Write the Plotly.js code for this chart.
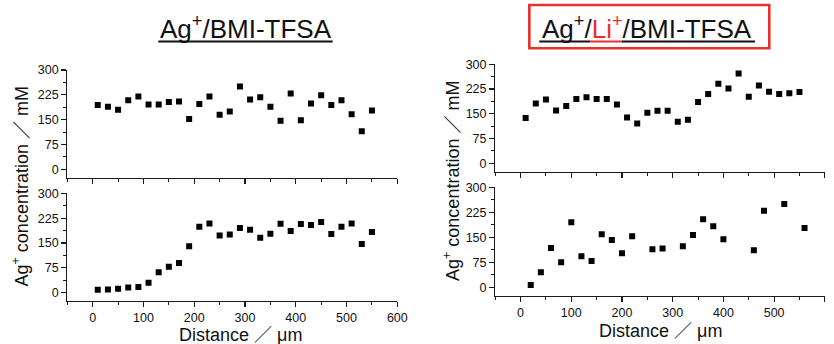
<!DOCTYPE html>
<html>
<head>
<meta charset="utf-8">
<script src="https://cdn.plot.ly/plotly-3.0.1.min.js"></script>
<style>html,body{margin:0;padding:0;background:#fff;}#chart{width:834px;height:344px;}</style>
</head>
<body>
<div id="chart"></div>
<script>
// ---- data ----
const distA = [10,30,50,70,90,110,130,150,170,190,210,230,250,270,290,310,330,350,370,390,410,430,450,470,490,510,530,550];
const agTopLeft = [194,189,180,209,220,196,196,203,205,152,197,220,165,175,250,211,218,189,147,229,148,199,224,194,209,166,115,178];
const agBottomLeft = [9,10,12,16,17,30,62,78,90,140,199,209,173,176,195,190,166,178,208,186,207,204,213,177,199,209,147,183];
const agTopRight = [137,181,193,160,174,195,200,195,195,178,139,121,153,159,159,126,132,186,210,241,227,272,202,236,217,210,212,216];
const distB = [20,40,60,80,100,120,140,160,180,200,220,260,280,320,340,360,380,400,460,480,520,560];
const agBottomRight = [7,45,118,75,195,93,79,159,142,102,153,114,116,123,157,204,183,144,111,230,250,178];
const yTickVals = [0,75,150,225,300];
const yTickText = ["0","75","150","225","300"];
const xTickVals = [0,100,200,300,400,500,600];
const xTickText = ["0","100","200","300","400","500","600"];
const titleLeft = "Ag<sup>+</sup>/BMI-TFSA";
const titleRight = "Ag<sup>+</sup>/<span style=\"color:#e8302c\">Li<sup>+</sup></span>/BMI-TFSA";
const yTitle = "Ag<sup>+</sup> concentration ／ mM";
const xTitle = "Distance ／ μm";

// ---- styles ----
const FONT = "Liberation Sans, Arial, Noto Sans CJK JP, sans-serif";
const INK = "#1a1a1a";
const RED = "#e8302c";
const marker = {symbol: "square", size: 6, color: "#000"};

function tr(x, y, xa, ya) {
  return {x: x, y: y, type: "scatter", mode: "markers", marker: marker,
          xaxis: xa, yaxis: ya, showlegend: false, hoverinfo: "x+y"};
}
const data = [
  tr(distA, agTopLeft, "x", "y"),
  tr(distA, agBottomLeft, "x2", "y2"),
  tr(distA, agTopRight, "x3", "y3"),
  tr(distB, agBottomRight, "x4", "y4")
];

function xax(domain, anchor, labels) {
  return {domain: domain, anchor: anchor, range: [-50, 600], autorange: false,
    showgrid: false, zeroline: false, showline: true, linecolor: INK, linewidth: 1.2,
    ticks: "outside", ticklen: 5, tickwidth: 1.2, tickcolor: INK,
    tickmode: "array", tickvals: xTickVals, ticktext: xTickText,
    minor: {tickmode: "linear", tick0: 0, dtick: 50, ticks: "outside", ticklen: 3, tickwidth: 1, tickcolor: INK, showgrid: false},
    showticklabels: labels, tickfont: {family: FONT, size: 12.5, color: "#111"}, fixedrange: true};
}
function yax(domain, anchor) {
  return {domain: domain, anchor: anchor, range: [-25, 300], autorange: false,
    showgrid: false, zeroline: false, showline: true, linecolor: INK, linewidth: 1.2,
    ticks: "outside", ticklen: 5, tickwidth: 1.2, tickcolor: INK,
    tickmode: "array", tickvals: yTickVals, ticktext: yTickText,
    minor: {tickmode: "linear", tick0: 0, dtick: 37.5, ticks: "outside", ticklen: 3, tickwidth: 1, tickcolor: INK, showgrid: false},
    tickfont: {family: FONT, size: 12.5, color: "#111"}, fixedrange: true};
}
function uline(x0, x1, color) {
  return {type: "line", xref: "paper", yref: "paper", x0: x0, x1: x1, y0: 0.8794, y1: 0.8794,
          line: {color: color, width: 2}};
}

const LX = [0.0807, 0.4764], RX = [0.5938, 0.9890];
const layout = {
  width: 834, height: 344,
  margin: {l: 0, r: 0, t: 0, b: 0},
  paper_bgcolor: "#fff", plot_bgcolor: "#fff",
  font: {family: FONT, color: "#111"},
  xaxis: xax(LX, "y", false),
  yaxis: yax([0.4837, 0.7965], "x"),
  xaxis2: xax(LX, "y2", true),
  yaxis2: yax([0.1250, 0.4381], "x2"),
  xaxis3: xax(RX, "y3", false),
  yaxis3: yax([0.5012, 0.8131], "x3"),
  xaxis4: xax(RX, "y4", true),
  yaxis4: yax([0.1407, 0.4555], "x4"),
  shapes: [
    {type: "rect", xref: "paper", yref: "paper", x0: 0.6347, x1: 0.9224, y0: 0.8596, y1: 0.9855,
     line: {color: RED, width: 2.6}, fillcolor: "rgba(0,0,0,0)"},
    uline(0.1898, 0.3989, "#111"),
    uline(0.6466, 0.7074, "#111"),
    uline(0.7074, 0.7454, RED),
    uline(0.7454, 0.9053, "#111")
  ],
  annotations: [
    {text: titleLeft, xref: "paper", yref: "paper", x: 0.2944, y: 0.92, xanchor: "center", yanchor: "middle",
     showarrow: false, font: {family: FONT, size: 26, color: "#111"}},
    {text: titleRight, xref: "paper", yref: "paper", x: 0.776, y: 0.92, xanchor: "center", yanchor: "middle",
     showarrow: false, font: {family: FONT, size: 26, color: "#111"}},
    {text: yTitle, xref: "paper", yref: "paper", x: 0.0252, y: 0.4578, xanchor: "center", yanchor: "middle",
     textangle: -90, showarrow: false, font: {family: FONT, size: 18, color: "#111"}},
    {text: yTitle, xref: "paper", yref: "paper", x: 0.5408, y: 0.4738, xanchor: "center", yanchor: "middle",
     textangle: -90, showarrow: false, font: {family: FONT, size: 18, color: "#111"}},
    {text: xTitle, xref: "paper", yref: "paper", x: 0.2878, y: 0.025, xanchor: "center", yanchor: "middle",
     showarrow: false, font: {family: FONT, size: 18, color: "#111"}},
    {text: xTitle, xref: "paper", yref: "paper", x: 0.7914, y: 0.0383, xanchor: "center", yanchor: "middle",
     showarrow: false, font: {family: FONT, size: 18, color: "#111"}}
  ]
};

Plotly.newPlot("chart", data, layout, {staticPlot: true, displayModeBar: false});
</script>
</body>
</html>
